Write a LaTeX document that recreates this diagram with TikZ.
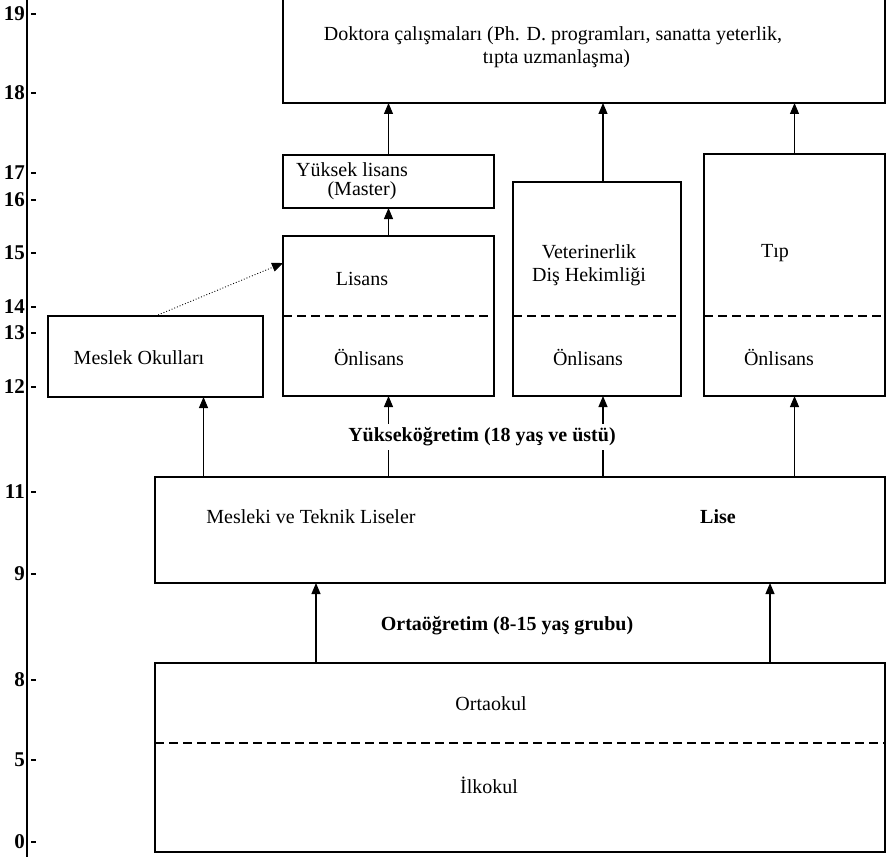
\documentclass[tikz,border=0pt]{standalone}
\usepackage{fontspec}
\setmainfont{Liberation Serif}
\usetikzlibrary{arrows.meta,calc}
\tikzset{
  box/.style={draw, line width=2pt, rectangle, inner sep=0pt, outer sep=0pt, anchor=north west},
  txt/.style={inner sep=1pt, font=\fontsize{20}{23}\selectfont},
  btxt/.style={inner sep=1pt, font=\fontsize{20}{23}\selectfont\bfseries},
  arr/.style={line width=1.1pt, -{Triangle[length=11pt,width=9pt]}},
  darr/.style={line width=0.9pt, dotted, -{Triangle[length=11pt,width=9pt]}},
  dline/.style={line width=2pt, dash pattern=on 9pt off 5pt},
  axlab/.style={anchor=east, inner sep=0pt, font=\fontsize{21}{21}\selectfont\bfseries},
  tick/.style={line width=2pt},
}
\begin{document}
\begin{tikzpicture}[x=1pt,y=-1pt]
\useasboundingbox (0,0) rectangle (896,856);
% axis
\draw[line width=2pt] (27,-2) -- (27,858);
\foreach \v/\y in {19/14,18/93,17/173,16/200,15/253,14/307,13/333,12/387,11/492,9/574,8/680,5/760,0/842}{
  \node[axlab] (ax\v) at (25,\y) {\v};
  \draw[tick] (31,\y) -- (36,\y);
}
% boxes
\node[box, minimum width=602, minimum height=109] (doc) at (283,-6) {};
\node[box, minimum width=211, minimum height=53] (yl) at (283,155) {};
\node[box, minimum width=211, minimum height=160] (lis) at (283,236) {};
\node[box, minimum width=168, minimum height=214] (vet) at (513,182) {};
\node[box, minimum width=181, minimum height=242] (tip) at (704,154) {};
\node[box, minimum width=215, minimum height=81] (mes) at (48,316) {};
\node[box, minimum width=730, minimum height=106] (lise) at (155,477) {};
\node[box, minimum width=730, minimum height=189] (ilk) at (155,663) {};
% dashed separators
\draw[dline] (lis.west) -- (lis.east);
\draw[dline] (vet.west |- lis.west) -- (vet.east |- lis.west);
\draw[dline] (tip.west |- lis.west) -- (tip.east |- lis.west);
\draw[dline] ([yshift=14.5pt]ilk.west) -- ([yshift=14.5pt]ilk.east);
% texts
\node[txt, align=center] (tdoc) at (553,47) {Doktora çalışmaları (Ph. D. programları, sanatta yeterlik,\\\hspace*{7pt}tıpta uzmanlaşma)};
\node[txt, align=center, font=\fontsize{20}{19}\selectfont] (tyl) at (352,181) {Yüksek lisans\\\hspace*{20pt}(Master)};
\node[txt] (tlis) at (362,279) {Lisans};
\node[txt] (tlison) at (369,357) {Önlisans};
\node[txt, align=center] (tvet) at (589,265) {Veterinerlik\\Diş Hekimliği};
\node[txt] (tveton) at (588,357) {Önlisans};
\node[txt] (ttip) at (775,253) {Tıp};
\node[txt] (ttipon) at (779,357) {Önlisans};
\node[txt] (tmes) at (139,358) {Meslek Okulları};
\node[txt] (tmtl) at (311,517) {Mesleki ve Teknik Liseler};
\node[btxt] (tlise) at (718,517) {Lise};
\node[txt] (torta) at (491,704) {Ortaokul};
\node[txt] (tilk) at (489,785) {İlkokul};
% arrows
\draw[arr] (yl.north) -- (yl.north |- doc.south);
\coordinate (v1) at ([xshift=6pt]vet.north);
\draw[arr] (v1) -- (v1 |- doc.south);
\draw[arr] (tip.north) -- (tip.north |- doc.south);
\draw[arr] (lis.north) -- (lis.north |- yl.south);
\coordinate (m1) at ([xshift=48pt]mes.south);
\draw[arr] (m1 |- lise.north) -- (m1);
\draw[arr] (lis.south |- lise.north) -- (lis.south);
\coordinate (v2) at ([xshift=6pt]vet.south);
\draw[arr] (v2 |- lise.north) -- (v2);
\draw[arr] (tip.south |- lise.north) -- (tip.south);
\coordinate (o1) at ([xshift=-204pt]ilk.north);
\coordinate (o2) at ([xshift=250pt]ilk.north);
\draw[arr] (o1) -- (o1 |- lise.south);
\draw[arr] (o2) -- (o2 |- lise.south);
\draw[darr] (mes.north) -- ([yshift=53pt]lis.west);
% level labels
\node[btxt, fill=white, inner sep=4pt] (yuk) at (482,437) {Yükseköğretim (18 yaş ve üstü)};
\node[btxt] (ort) at (507,626) {Ortaöğretim (8-15 yaş grubu)};
\end{tikzpicture}
\end{document}
